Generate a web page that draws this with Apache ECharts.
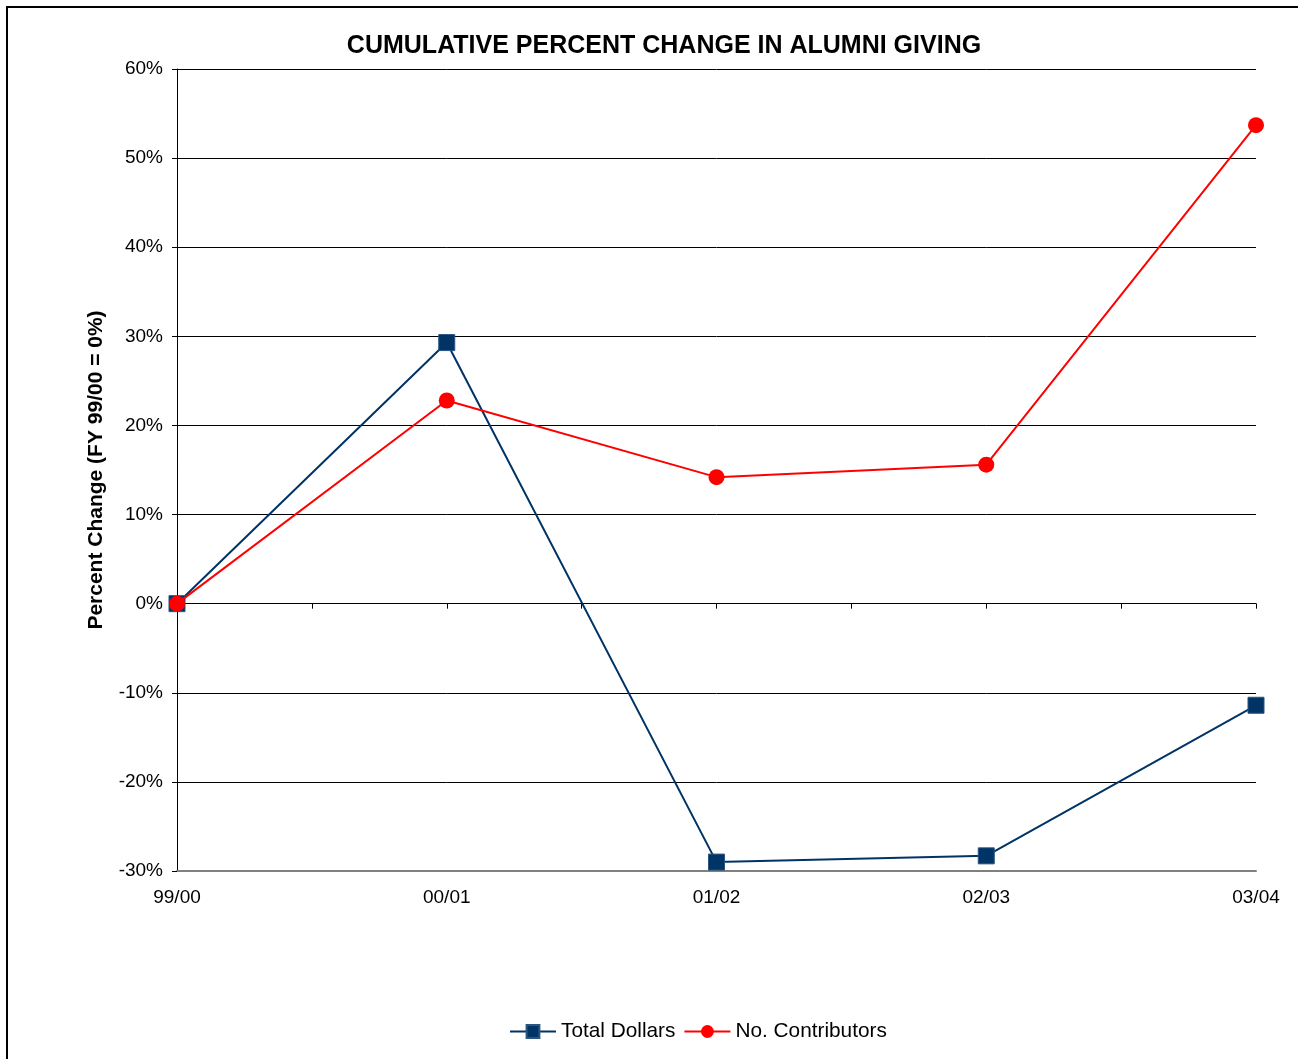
<!DOCTYPE html>
<html>
<head>
<meta charset="utf-8">
<script src="https://cdn.jsdelivr.net/npm/echarts@6/dist/echarts.min.js"></script>
<style>
html,body{margin:0;padding:0;background:#fff;}
#chart{width:1298px;height:1059px;}
</style>
</head>
<body>
<div id="chart"></div>
<script>
var categories = ['99/00', '00/01', '01/02', '02/03', '03/04'];
var totalDollars = [0, 29.3, -29.0, -28.3, -11.4];
var noContributors = [0, 22.8, 14.2, 15.6, 53.7];
var yTicks = { min: -30, max: 60, interval: 10 };

var chart = echarts.init(document.getElementById('chart'));
var font = 'Liberation Sans, Arial, sans-serif';
chart.setOption({
  animation: false,
  backgroundColor: '#fff',
  textStyle: { fontFamily: font },
  title: {
    text: 'CUMULATIVE PERCENT CHANGE IN ALUMNI GIVING',
    left: 659, top: 29, textAlign: 'center',
    textStyle: { fontSize: 25, fontWeight: 'bold', color: '#000', fontFamily: font }
  },
  graphic: [{
    type: 'rect', shape: { x: 7, y: 7, width: 1300, height: 1060 },
    style: { fill: 'none', stroke: '#000', lineWidth: 2 }, silent: true
  }],
  legend: {
    bottom: 12, left: 504,
    itemWidth: 46, itemHeight: 16, itemGap: 8,
    textStyle: { fontSize: 20.8, color: '#000', fontFamily: font },
    data: ['Total Dollars', 'No. Contributors']
  },
  grid: { left: 177, right: 42, top: 69, bottom: 188 },
  xAxis: [{
    type: 'category', data: categories, boundaryGap: false,
    position: 'bottom',
    axisLine: { onZero: false, show: true, lineStyle: { color: '#808080', width: 2 } },
    axisTick: { show: false },
    axisLabel: { fontSize: 19, color: '#000', margin: 17, fontFamily: font },
    splitLine: { show: false }
  }, {
    type: 'value', min: 0, max: 4, interval: 0.5,
    position: 'bottom',
    axisLine: { onZero: true, show: true, lineStyle: { color: '#000', width: 1 } },
    axisTick: { show: true, length: 5, lineStyle: { color: '#000' } },
    axisLabel: { show: false },
    splitLine: { show: false }
  }],
  yAxis: {
    type: 'value', min: yTicks.min, max: yTicks.max, interval: yTicks.interval,
    name: 'Percent Change (FY 99/00 = 0%)',
    nameLocation: 'middle', nameGap: 70,
    nameTextStyle: { fontSize: 21, fontWeight: 'bold', color: '#000', fontFamily: font },
    axisLine: { show: true, lineStyle: { color: '#000' } },
    axisTick: { show: true, length: 5, lineStyle: { color: '#000' } },
    axisLabel: { formatter: '{value}%', fontSize: 19, color: '#000', margin: 14, fontFamily: font },
    splitLine: { show: true, lineStyle: { color: '#000', width: 1 } }
  },
  series: [{
    name: 'Total Dollars', type: 'line', data: totalDollars,
    xAxisIndex: 0,
    symbol: 'rect', symbolSize: 16,
    lineStyle: { color: '#003366', width: 2 },
    itemStyle: { color: '#003366', borderColor: '#2a5580', borderWidth: 1 },
    z: 3
  }, {
    name: 'No. Contributors', type: 'line', data: noContributors,
    xAxisIndex: 0,
    symbol: 'circle', symbolSize: 16,
    lineStyle: { color: '#ff0000', width: 2 },
    itemStyle: { color: '#ff0000' },
    z: 4
  }]
});
</script>
</body>
</html>
